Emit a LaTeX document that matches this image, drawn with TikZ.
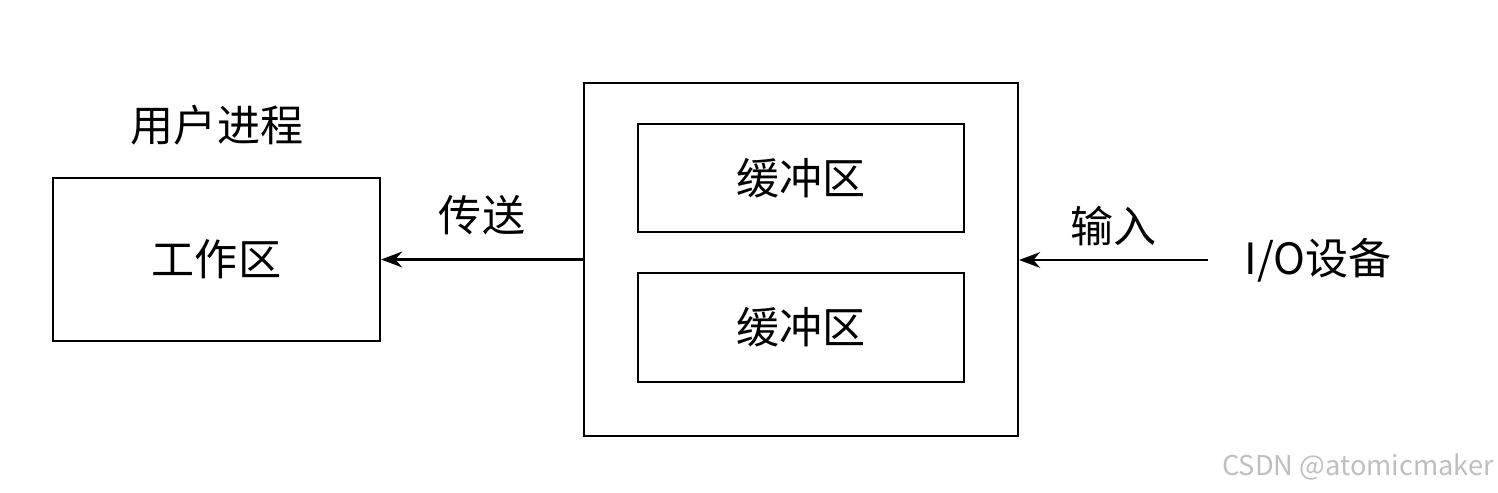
\documentclass[tikz,border=0pt]{standalone}
\usepackage{fontspec}
\setmainfont{Noto Sans CJK SC}
\usetikzlibrary{positioning, arrows.meta}

\tikzset{
    area/.style={draw, line width=1.3pt, minimum width=#1},
    lbl/.style={font=\fontsize{24.5}{28}\selectfont}
}

\begin{document}
\begin{tikzpicture}[x=0.02cm,y=0.02cm,lbl]
            \useasboundingbox (0,0) rectangle (1498,493);
            \node[area=6.54cm, minimum height=3.26cm] (work) at (216.5,233.5) {工作区};
            \node (proc) at (217,368) {用户进程};
            \node[area=8.68cm, minimum height=7.06cm] (buf) at (801,233.5) {};
            \node[area=6.52cm, minimum height=2.16cm] (buf_1) at (801,315) {缓冲区};
            \node[area=6.52cm, minimum height=2.18cm] (buf_2) at (801,165.5) {缓冲区};
            \node (io) at (1318,233) {I/O设备};
            \coordinate (io_end) at (1208,233);
                \draw[-{Stealth[length=12pt,width=9pt]}, line width=1.3pt] (buf.west |- work.east) -- node[above=10pt] {传送} (work.east);
                \draw[-{Stealth[length=12pt,width=9pt]}, line width=1.3pt] (io_end) -- node[above=4pt] {输入} (io_end -| buf.east);
            \node[text=gray!50, font=\fontsize{15.5}{18}\selectfont] (mark) at (1358,26) {CSDN @atomicmaker};
\end{tikzpicture}
\end{document}
